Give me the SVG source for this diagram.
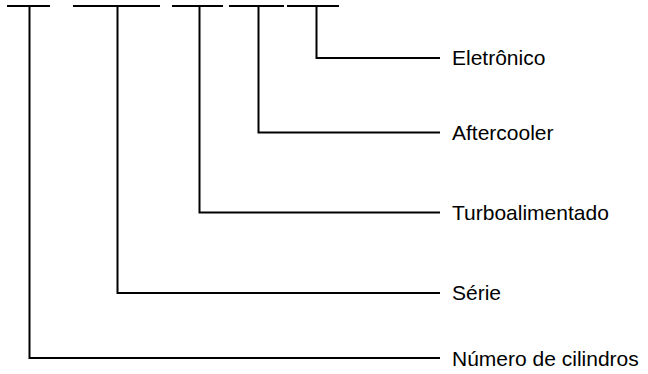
<svg xmlns="http://www.w3.org/2000/svg" width="648" height="374" viewBox="0 0 648 374">
<style>
.ln{stroke:#000;stroke-width:2;fill:none}
.lb{font-family:"Liberation Sans",Arial,sans-serif;font-size:21px;fill:#000}
</style>
<rect width="648" height="374" fill="#fff"/>
<g id="connectors">
<line class="ln" x1="7" y1="6" x2="50" y2="6"/>
<line class="ln" x1="73" y1="6" x2="160" y2="6"/>
<line class="ln" x1="172" y1="6" x2="223" y2="6"/>
<line class="ln" x1="229" y1="6" x2="284" y2="6"/>
<line class="ln" x1="287" y1="6" x2="339" y2="6"/>
<polyline class="ln" points="29.5,6 29.5,358 440,358"/>
<polyline class="ln" points="117.5,6 117.5,293 440,293"/>
<polyline class="ln" points="199.5,6 199.5,212.5 440,212.5"/>
<polyline class="ln" points="258.5,6 258.5,132.5 440,132.5"/>
<polyline class="ln" points="316.5,6 316.5,58 440,58"/>
</g>
<g id="eletronico"><text class="lb" x="452" y="64.5">Eletrônico</text></g>
<g id="aftercooler"><text class="lb" x="452" y="139.5">Aftercooler</text></g>
<g id="turboalimentado"><text class="lb" x="452" y="220">Turboalimentado</text></g>
<g id="serie"><text class="lb" x="452" y="300">Série</text></g>
<g id="numero"><text class="lb" x="452" y="366">Número de cilindros</text></g>
</svg>
